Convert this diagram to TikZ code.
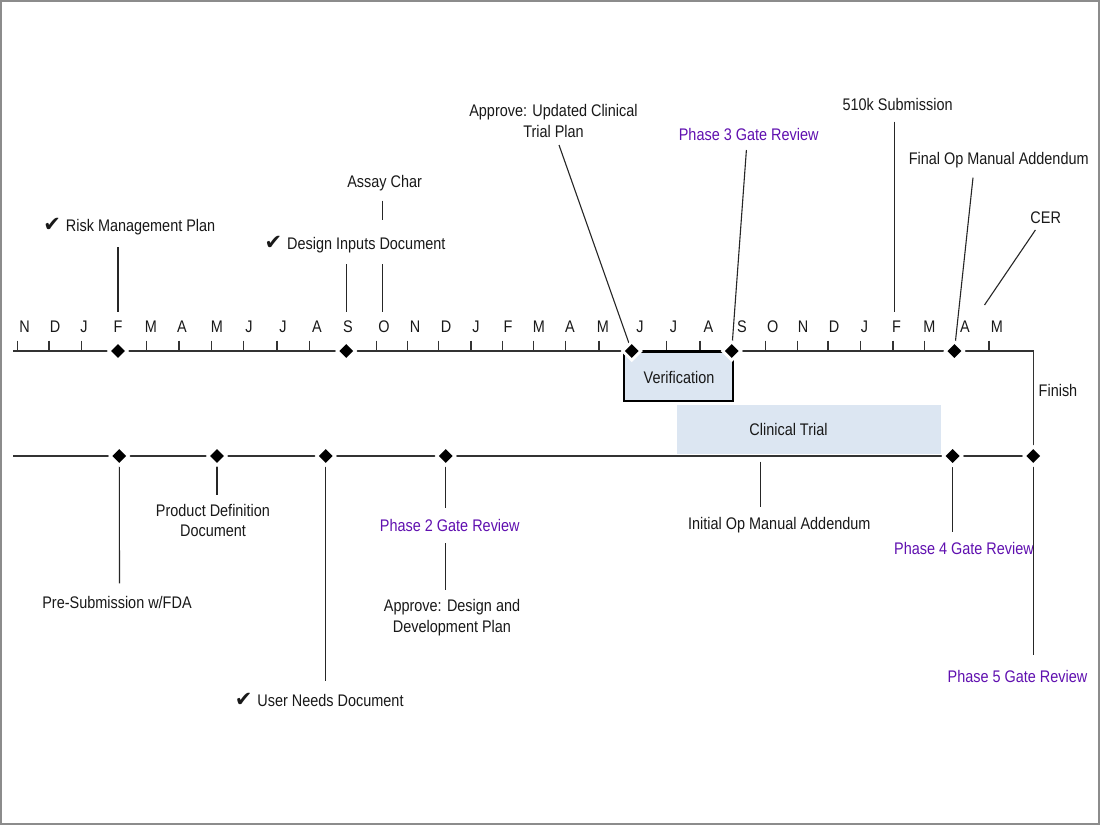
\documentclass[tikz,border=0pt]{standalone}
\usepackage{fontspec}
\setmainfont{Liberation Sans}[FakeStretch=0.86]
\newfontfamily\symfont{DejaVu Sans}
\usetikzlibrary{shapes.geometric}
\definecolor{phase}{HTML}{6010B0}
\definecolor{boxblue}{HTML}{DCE6F2}
\definecolor{frame}{HTML}{8C8C8C}
\newcommand{\chk}{{\symfont\fontsize{21}{20}\selectfont ✔}\hspace{5pt}}
\begin{document}
\begin{tikzpicture}[x=1pt,y=-1pt,
  lbl/.style={font=\fontsize{16.8}{20.7}\selectfont, inner sep=0pt, align=center, text=black!90},
  ph/.style={lbl, text=phase},
  mon/.style={lbl},
  axis/.style={line width=1.3pt, draw=black!80},
  conn/.style={line width=1.1pt, draw=black!85},
  ms/.style={diamond, fill=black, inner sep=0pt, minimum width=14pt, minimum height=14pt,
             preaction={draw=white, line width=6pt}},
  boxfill/.style={fill=boxblue, inner sep=0pt}]
\useasboundingbox (0,0) rectangle (1100,825);
\fill[white] (0,0) rectangle (1100,825);
\draw[frame, line width=1.6pt] (0.8,0.8) rectangle (1098.8,824.2);

% clinical trial box (under the bottom line)
\node[boxfill, minimum width=263.7pt, minimum height=48.7pt] (ct) at (809.2,429.7) {};
\node[lbl] (ctt) at (788.5,429) {Clinical Trial};

% month labels
\foreach \m/\x [count=\i] in {N/24.5, D/55, J/84, F/118, M/151, A/182, M/217, J/249, J/283, A/317, S/348, O/384, N/415, D/446, J/476, F/508, M/539, A/570, M/603, J/640, J/673.5, A/708.5, S/742, O/772.7, N/803, D/834, J/864.6, F/896.5, M/929.5, A/965, M/997}
  \node[mon] (m\i) at (\x,326.7) {\m};

% ticks
\foreach \x [count=\i] in {17.5, 49, 81.4, 146.6, 178.9, 211.2, 243.8, 277, 309.7, 376.4, 407.2, 438.4, 471, 502.6, 533.8, 565.8, 599, 666.4, 700, 765.7, 797.3, 828, 860.4, 893, 924.6, 989}
  {\coordinate (tk\i) at (\x,340.7); \draw[axis] (tk\i) -- ++(0,10.3);}

% axis end points
\coordinate (tl0) at (13,351);
\coordinate (bl0) at (13,456);

% diamonds (nodes), placed first to name them; drawn again at the end
\path (118,351) node[ms] (dF) {} (346.2,351) node[ms] (dS) {}
      (631.7,351) node[ms] (dJ) {} (731.7,351) node[ms] (dS2) {}
      (954.4,351) node[ms] (dA) {}
      (119.3,456) node[ms] (b1) {} (217,456) node[ms] (b2) {}
      (325.8,456) node[ms] (b3) {} (445.8,456) node[ms] (b4) {}
      (952.6,456) node[ms] (b5) {} (1033.3,456) node[ms] (b6) {};

% axes
\draw[axis] (tl0) -| (b6.center);
\draw[axis] (bl0) -- (b6.center);

% verification box
\node[draw=black, line width=2.6pt, fill=boxblue, inner sep=0pt,
      minimum width=109pt, minimum height=49.5pt] (ver) at (678.6,376.2) {};
\node[lbl] (vert) at (679,377) {Verification};

% top labels
\node[lbl] (rmp) at (129.3,227) {\chk Risk Management Plan};
\node[lbl] (did) at (355,245) {\chk Design Inputs Document};
\node[lbl] (assay) at (384.6,183.3) {Assay Char};
\node[lbl] (appu) at (553.5,121.3) {Approve: Updated Clinical\\Trial Plan};
\node[ph]  (p3) at (748.7,134) {Phase 3 Gate Review};
\node[lbl] (k510) at (897.6,104.3) {510k Submission};
\node[lbl] (fop) at (998.7,160) {Final Op Manual Addendum};
\node[lbl] (cer) at (1045.7,217.3) {CER};
\node[lbl] (fin) at (1058,390.7) {Finish};

% bottom labels
\node[lbl] (pre) at (117,602.7) {Pre-Submission w/FDA};
\node[lbl] (pdd) at (213,520.5) {Product Definition\\Document};
\node[lbl] (und) at (319.2,700) {\chk User Needs Document};
\node[ph]  (p2) at (449.8,525) {Phase 2 Gate Review};
\node[lbl] (add) at (452,617.5) {Approve: Design and\\Development Plan};
\node[lbl] (iop) at (779.3,525) {Initial Op Manual Addendum};
\node[ph]  (p4) at (964,548.3) {Phase 4 Gate Review};
\node[ph]  (p5) at (1017.5,676) {Phase 5 Gate Review};

% connector coordinates
\coordinate (c1a) at (118,247);   \coordinate (c1b) at (118,312);
\coordinate (c2a) at (346.2,264); \coordinate (c2b) at (346.2,312);
\coordinate (c3a) at (382.3,264); \coordinate (c3b) at (382.3,312);
\coordinate (c4a) at (382.3,200.5); \coordinate (c4b) at (382.3,219.5);
\coordinate (c5a) at (559,145);
\coordinate (c6a) at (746.4,150);
\coordinate (c7a) at (894.6,121.5); \coordinate (c7b) at (894.6,312);
\coordinate (c8a) at (973,177.7);
\coordinate (c9a) at (1035.4,230); \coordinate (c9b) at (984.5,305);
\coordinate (e1) at (119.5,583.3);
\coordinate (e2) at (217,495);
\coordinate (e3) at (325.8,680.7);
\coordinate (e4a) at (445.8,508.3); \coordinate (e4b) at (445.8,543); \coordinate (e4c) at (445.8,590);
\coordinate (e5a) at (760.4,461.7); \coordinate (e5b) at (760.4,506.7);
\coordinate (e6) at (952.6,531.7);
\coordinate (e7) at (1033.3,655);

% connectors
\draw[conn] (c1a) -- (c1b);
\draw[conn] (c2a) -- (c2b);
\draw[conn] (c3a) -- (c3b);
\draw[conn] (c4a) -- (c4b);
\draw[conn] (c5a) -- (dJ.center);
\draw[conn] (c6a) -- (dS2.center);
\draw[conn] (c7a) -- (c7b);
\draw[conn] (c8a) -- (dA.center);
\draw[conn] (c9a) -- (c9b);
\draw[conn] (b1.center) -- (e1);
\draw[conn] (b2.center) -- (e2);
\draw[conn] (b3.center) -- (e3);
\draw[conn] (b4.center) -- (e4a);
\draw[conn] (e4b) -- (e4c);
\draw[conn] (e5a) -- (e5b);
\draw[conn] (b5.center) -- (e6);
\draw[conn] (b6.center) -- (e7);

% diamonds redrawn on top
\foreach \d in {dF,dS,dJ,dS2,dA,b1,b2,b3,b4,b5,b6}
  \node[ms] at (\d.center) {};
\end{tikzpicture}
\end{document}
